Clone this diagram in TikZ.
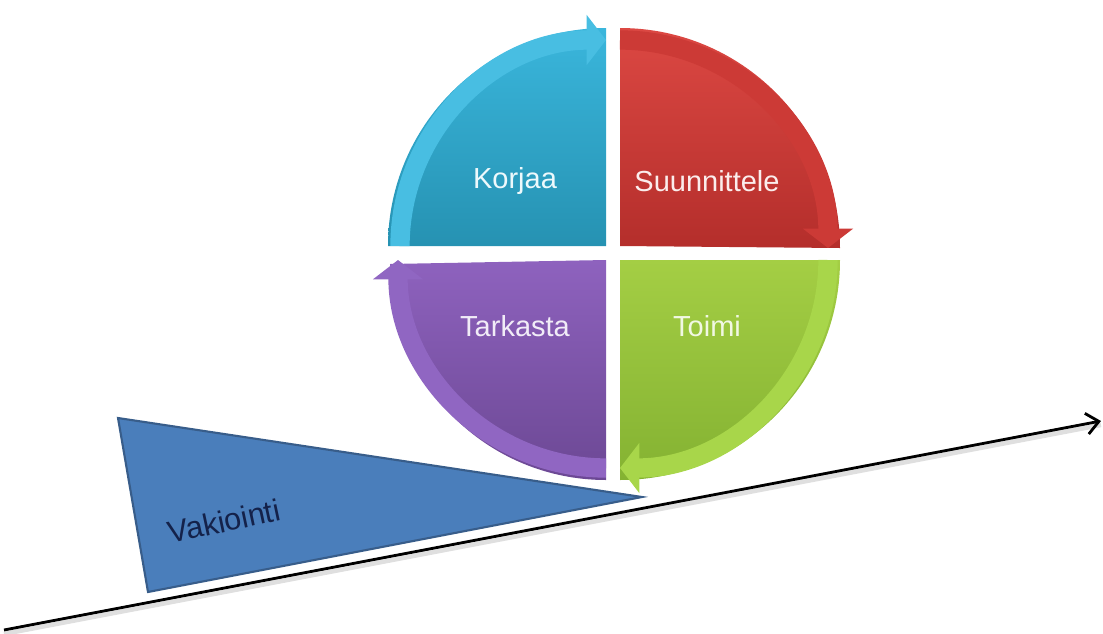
\documentclass[tikz,border=0pt]{standalone}
\usepackage{fontspec}
\setmainfont{Liberation Sans}
\usetikzlibrary{arrows.meta}

\definecolor{kortop}{HTML}{3AB6DC}
\definecolor{korbot}{HTML}{2692B2}
\definecolor{korband}{HTML}{48BEE2}
\definecolor{suutop}{HTML}{DC4843}
\definecolor{suubot}{HTML}{B42E2B}
\definecolor{suuband}{HTML}{CC3A36}
\definecolor{toitop}{HTML}{A4CE44}
\definecolor{toibot}{HTML}{84B232}
\definecolor{toiband}{HTML}{A8D64A}
\definecolor{tartop}{HTML}{8E62BE}
\definecolor{tarbot}{HTML}{6C4894}
\definecolor{tarband}{HTML}{9066C2}
\definecolor{vakfill}{HTML}{4A7EBB}
\definecolor{vakedge}{HTML}{385D8A}
\definecolor{vaktext}{HTML}{14224A}

\tikzset{
  quadtext/.style={font=\fontsize{16.5}{19}\selectfont},
  band/.style={line width=11pt, -{Triangle[length=11pt, width=28pt]}}
}

\begin{document}
\begin{tikzpicture}[x=0.02cm, y=0.02cm]
  \useasboundingbox (0,0) rectangle (1103,-633);
  % Quadrants
  \shade[top color=kortop, bottom color=korbot] (606,-246) -- ++(-218,0) arc (180:90:218) -- cycle;
  \shade[top color=suutop, bottom color=suubot] (620,-246) -- ++(0,218) arc (90:0:220) -- cycle;
  \shade[top color=toitop, bottom color=toibot] (620,-260) -- ++(220,0) arc (0:-90:220) -- cycle;
  \shade[top color=tartop, bottom color=tarbot] (606,-260) -- ++(0,-220) arc (270:180:216) -- cycle;
  % Band arrows
  \draw[band, korband] (400,-246) arc (180:90:206);
  \draw[band, suuband] (620,-40) arc (90:0:208);
  \draw[band, toiband] (828,-260) arc (0:-90:208);
  \draw[band, tarband] (606,-468) arc (270:180:208);
  % Labels
  \node (korjaa) [quadtext, text=white!90!korband] at (515,-181) {Korjaa};
  \node (suunnittele) [quadtext, text=white!90!suutop] at (707,-181) {Suunnittele};
  \node (tarkasta) [quadtext, text=white!88!tartop] at (515,-326) {Tarkasta};
  \node (toimi) [quadtext, text=white!85!toitop] at (707,-326) {Toimi};
  % Wedge
  \filldraw[fill=vakfill, draw=vakedge, line width=1.2pt] (118,-418) -- (148,-592) -- (642,-497) -- cycle;
  \node (vakiointi) [font=\fontsize{17.5}{20}\selectfont, text=vaktext, rotate=12] at (224,-521) {Vakiointi};
  % Axis
  \coordinate (start) at (4,-630);
  \coordinate (end) at (1101,-421);
  \draw[gray!25, line width=2.5pt] ([yshift=-0.08cm]start) -- ([yshift=-0.08cm]end);
  \draw[line width=1.6pt, -{Straight Barb[length=7pt, width=12pt]}] (start) -- (end);
\end{tikzpicture}
\end{document}
